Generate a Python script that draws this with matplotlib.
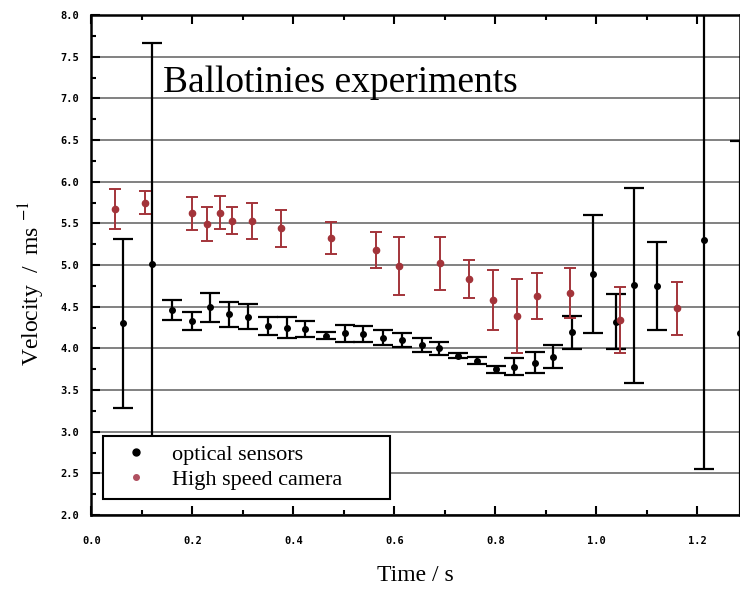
import matplotlib.pyplot as plt
from matplotlib.lines import Line2D
from matplotlib.ticker import MultipleLocator, FormatStrFormatter

# high speed camera (red)
t_cam = [0.047, 0.106, 0.200, 0.229, 0.254, 0.278, 0.319, 0.375, 0.474, 0.564,
         0.610, 0.690, 0.747, 0.795, 0.842, 0.883, 0.948, 1.046, 1.159]
v_cam = [5.67, 5.75, 5.62, 5.49, 5.63, 5.53, 5.53, 5.44, 5.32, 5.18,
         4.99, 5.02, 4.83, 4.58, 4.39, 4.63, 4.67, 4.34, 4.48]
e_cam = [0.24, 0.14, 0.20, 0.20, 0.20, 0.16, 0.22, 0.22, 0.19, 0.22,
         0.35, 0.32, 0.23, 0.36, 0.44, 0.28, 0.30, 0.40, 0.32]

# optical sensors (black)
t_opt = [0.062, 0.121, 0.160, 0.199, 0.236, 0.273, 0.311, 0.350, 0.387, 0.423,
         0.465, 0.502, 0.539, 0.577, 0.615, 0.654, 0.689, 0.727, 0.763, 0.801,
         0.838, 0.879, 0.915, 0.951, 0.994, 1.039, 1.075, 1.121, 1.214, 1.284]
v_opt = [4.30, 5.01, 4.46, 4.33, 4.49, 4.41, 4.38, 4.27, 4.25, 4.23,
         4.15, 4.18, 4.17, 4.13, 4.10, 4.04, 4.00, 3.91, 3.85, 3.75,
         3.78, 3.83, 3.90, 4.19, 4.89, 4.32, 4.76, 4.75, 5.30, 4.18]
e_opt = [1.01, 2.66, 0.12, 0.11, 0.18, 0.15, 0.15, 0.11, 0.13, 0.10,
         0.04, 0.10, 0.10, 0.09, 0.08, 0.09, 0.08, 0.03, 0.04, 0.04,
         0.10, 0.13, 0.14, 0.20, 0.71, 0.33, 1.17, 0.53, 2.75, 2.31]

plt.rcParams['mathtext.fontset'] = 'stix'
serif = 'Liberation Serif'
red = '#a3343a'

fig = plt.figure(figsize=(7.4, 5.89), dpi=100)
ax = fig.add_axes([91.3 / 740, 74 / 589, 648.7 / 740, 500 / 589])
ax.set_xlim(0, 648.7 / 505)
ax.set_ylim(2, 8)

ax.xaxis.set_major_locator(MultipleLocator(0.2))
ax.xaxis.set_minor_locator(MultipleLocator(0.1))
ax.yaxis.set_major_locator(MultipleLocator(0.5))
ax.yaxis.set_minor_locator(MultipleLocator(0.25))
ax.xaxis.set_major_formatter(FormatStrFormatter('%.1f'))
ax.yaxis.set_major_formatter(FormatStrFormatter('%.1f'))
ax.yaxis.grid(True, color='#777777', lw=1.3)
ax.set_axisbelow(True)

ax.tick_params(which='both', direction='in', top=True, right=False, width=1.5)
ax.tick_params(which='major', length=6.5)
ax.tick_params(which='minor', length=3.5)
ax.tick_params(axis='y', pad=9)
ax.tick_params(axis='x', pad=15)
for lab in ax.get_xticklabels() + ax.get_yticklabels():
    lab.set_family('DejaVu Sans Mono')
    lab.set_weight('bold')
    lab.set_fontsize(7.5)

for s in ax.spines.values():
    s.set_linewidth(1.8)

ax.errorbar(t_opt, v_opt, yerr=e_opt, fmt='o', color='black', ms=4,
            capsize=7, elinewidth=1.6, capthick=1.6)
ax.errorbar(t_cam, v_cam, yerr=e_cam, fmt='o', color=red, ms=4.5,
            capsize=4, elinewidth=1.4, capthick=1.4)

ax.text(0.142, 7.076, 'Ballotinies experiments', family=serif, fontsize=27,
        ha='left', va='baseline')

ax.set_xlabel('Time / s', family=serif, fontsize=17)
ax.xaxis.set_label_coords(0.5, -0.10)
ax.set_ylabel('Velocity  /  ms $^{-1}$', family=serif, fontsize=17)
ax.yaxis.set_label_coords(-0.068, 0.464)

handles = [Line2D([], [], ls='none', marker='o', color='black', ms=5),
           Line2D([], [], ls='none', marker='o', color='#b05060', ms=4)]
leg = ax.legend(handles, ['optical sensors', 'High speed camera'],
                loc='lower left', bbox_to_anchor=(0.018, 0.032, 0.442, 0.144),
                mode='expand', prop={'family': serif, 'size': 16},
                frameon=True, fancybox=False, framealpha=1, edgecolor='black',
                borderpad=0.4, labelspacing=0.2, handlelength=2.2,
                handletextpad=0.5, borderaxespad=0)
leg.get_frame().set_linewidth(1.5)

fig.savefig('out.png', dpi=100)
